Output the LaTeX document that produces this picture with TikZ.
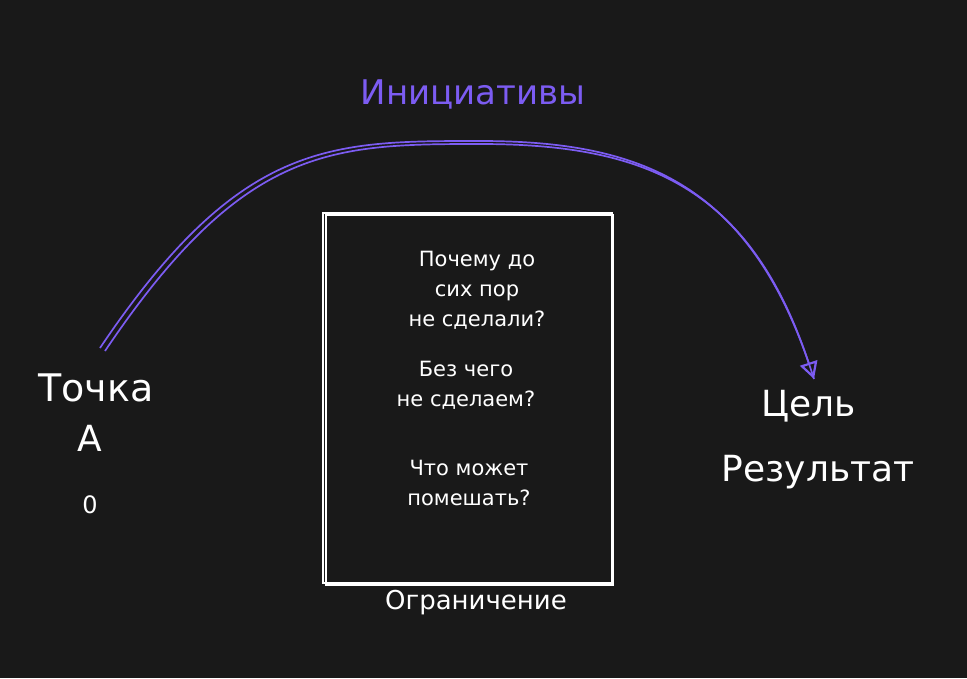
\documentclass[tikz,border=0pt]{standalone}
\usepackage{fontspec}
\setmainfont{DejaVu Sans}
\usetikzlibrary{arrows.meta,positioning,calc}
\definecolor{bgdark}{HTML}{191919}
\definecolor{violetline}{HTML}{7C5CF2}

\begin{document}
\begin{tikzpicture}[x=1pt,y=-1pt,
  biglabel/.style={text=white,font=\fontsize{36}{42}\selectfont},
  boxtext/.style={text=white,align=center,font=\fontsize{21}{30}\selectfont},
  sketch/.style={draw=white,line width=1.6pt},
  arc/.style={draw=violetline,line width=1.7pt}]
\fill[bgdark] (0,0) rectangle (967,678);
\useasboundingbox (0,0) rectangle (967,678);

\node[text=violetline,font=\fontsize{34}{40}\selectfont] (init) at (473,94) {Инициативы};

\node[biglabel,font=\fontsize{38}{42}\selectfont] (pointa) at (96,388) {Точка};
\node[biglabel] (lettera) at (90,438) {А};
\node[text=white,font=\fontsize{24}{28}\selectfont] (zero) at (90,505) {0};

\node[biglabel] (goal) at (809,406) {Цель};
\node[biglabel] (result) at (818,472) {Результат};

\draw[sketch] (323,213) rectangle (612,583);
\draw[sketch,line width=1.2pt] (326,215) rectangle (613,585);

\node[boxtext] (whynot) at (477,290) {Почему до\\сих пор\\не сделали?};
\node[boxtext] (without) at (466,385) {Без чего\\не сделаем?};
\node[boxtext] (hinder) at (469,483) {Что может\\помешать?};
\node[text=white,font=\fontsize{26}{30}\selectfont] (limit) at (476,603) {Ограничение};

\coordinate (arcstart) at (100,348);
\coordinate (arctop) at (480,141);
\coordinate (arcend) at (814,379);
\coordinate (arcstartb) at (105,351);
\coordinate (arctopb) at (480,144);
\draw[arc] (arcstart) .. controls (240,140) and (330,141) .. (arctop)
  .. controls (640,141) and (752,182) .. (arcend);
\draw[arc,-{Triangle[open,length=17pt,width=18pt,line width=2.2pt]}]
  (arcstartb) .. controls (243,146) and (330,144) .. (arctopb)
  .. controls (644,144) and (750,186) .. (arcend);
\end{tikzpicture}
\end{document}
